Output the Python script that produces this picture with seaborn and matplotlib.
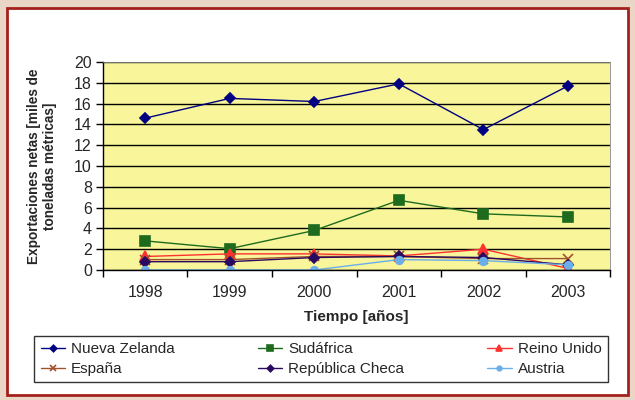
import numpy as np
import pandas as pd
import matplotlib
matplotlib.use("Agg")
import matplotlib.pyplot as plt
from matplotlib.patches import Rectangle
import seaborn as sns

# Data (miles de toneladas métricas)
years = ["1998", "1999", "2000", "2001", "2002", "2003"]
countries = ["Nueva Zelanda", "Sudáfrica", "Reino Unido", "España", "República Checa", "Austria"]
nueva_zelanda = [14.6, 16.5, 16.2, 17.9, 13.5, 17.7]
sudafrica = [2.8, 2.05, 3.8, 6.7, 5.4, 5.1]
reino_unido = [1.3, 1.55, 1.55, 1.35, 2.0, 0.15]
espana = [1.0, 1.0, 1.3, 1.3, 1.1, 1.1]
rep_checa = [0.8, 0.8, 1.2, 1.3, 1.2, 0.5]
austria = [0.0, 0.0, 0.0, 1.0, 0.9, 0.5]

colors = ["#000080", "#1e6b1e", "#ff3030", "#a0522d", "#2a0a5e", "#6aaeea"]
markers = ["D", "s", "^", "x", "D", "o"]
msizes = [5.5, 6.5, 6.5, 6.5, 5.5, 5.5]

series = [nueva_zelanda, sudafrica, reino_unido, espana, rep_checa, austria]
df = pd.DataFrame({
    "year": np.tile(np.arange(len(years)), len(countries)),
    "value": np.concatenate(series),
    "country": np.repeat(countries, len(years)),
})

sns.set_theme(style="white")
plt.rcParams["font.family"] = ["Liberation Sans", "DejaVu Sans"]

fig = plt.figure(figsize=(6.35, 4.0), dpi=100)
fig.patch.set_facecolor("#e9d6c6")
panel = Rectangle((0.011, 0.0125), 0.978, 0.9675, transform=fig.transFigure,
                  facecolor="white", edgecolor="#a3211c", linewidth=2, zorder=-10)
fig.add_artist(panel)

ax = fig.add_axes([0.162, 0.325, 0.799, 0.52])
ax.set_facecolor("#f8f59a")

for i, name in enumerate(countries):
    sub = df[df["country"] == name]
    sns.lineplot(data=sub, x="year", y="value", ax=ax, color=colors[i], marker=markers[i],
                 markersize=msizes[i], markeredgecolor=colors[i], markeredgewidth=1.2,
                 linewidth=1.0, label=name, legend=False)

ax.set_xlim(-0.5, len(years) - 0.5)
ax.set_ylim(0, 20)
ax.set_yticks(np.arange(0, 21, 2))
ax.set_xticks(np.arange(len(years)))
ax.set_xticklabels(years)
ax.set_xticks(np.arange(-0.5, len(years)), minor=True)
ax.yaxis.grid(True, color="black", linewidth=1.0)
ax.set_axisbelow(True)
for s in ["top", "right"]:
    ax.spines[s].set_visible(True)
    ax.spines[s].set_color("#888888")
    ax.spines[s].set_linewidth(0.6)
for s in ["left", "bottom"]:
    ax.spines[s].set_color("black")
    ax.spines[s].set_linewidth(1.0)
ax.tick_params(axis="y", which="major", direction="out", length=5, width=1, color="black",
               labelsize=11.5, left=True, pad=3)
ax.tick_params(axis="x", which="major", length=0, labelsize=11.5, pad=11)
ax.tick_params(axis="x", which="minor", direction="out", length=5, width=1, color="black", bottom=True)

ax.set_xlabel("Tiempo [años]", fontsize=11, fontweight="bold", labelpad=7)
ax.set_ylabel("Exportaciones netas [miles de\ntoneladas métricas]", fontsize=9.8,
              fontweight="bold", multialignment="center")
ax.yaxis.set_label_coords(-0.09, 0.5)

handles, labels = ax.get_legend_handles_labels()
order = [0, 3, 1, 4, 2, 5]
leg = fig.legend([handles[k] for k in order], [labels[k] for k in order], ncol=3,
                 loc="center", bbox_to_anchor=(0.047, 0.03, 0.917, 0.145), mode="expand",
                 fontsize=11, frameon=True, fancybox=False, handlelength=1.6, handletextpad=0.4,
                 markerscale=0.6, borderaxespad=0.3, columnspacing=1.0, labelspacing=0.4)
leg.get_frame().set_edgecolor("black")
leg.get_frame().set_linewidth(1.0)

fig.savefig("out.png", dpi=100, facecolor=fig.get_facecolor())
